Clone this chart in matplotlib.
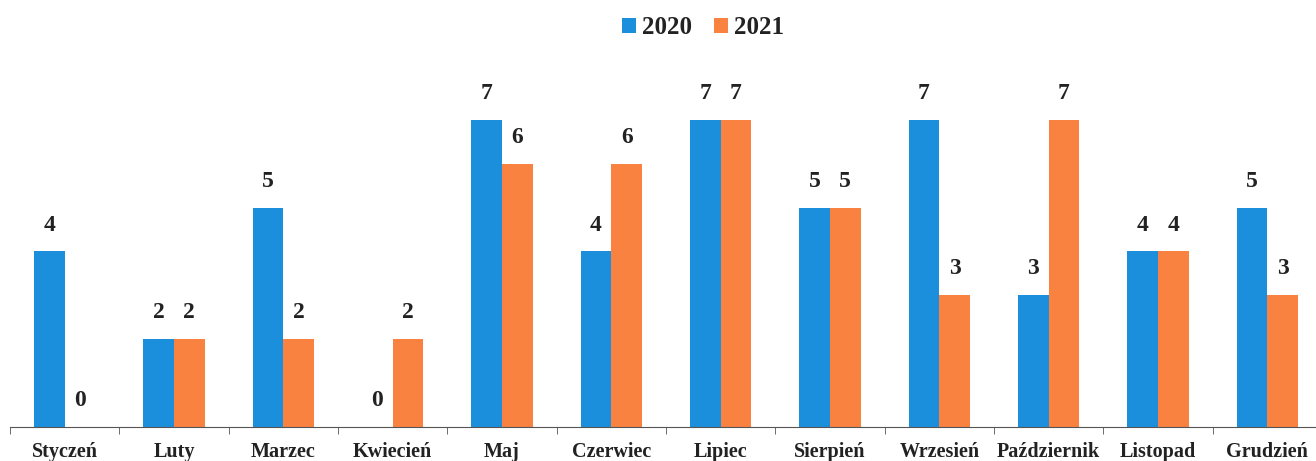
import numpy as np
import matplotlib.pyplot as plt

months = ["Styczeń", "Luty", "Marzec", "Kwiecień", "Maj", "Czerwiec", "Lipiec",
          "Sierpień", "Wrzesień", "Październik", "Listopad", "Grudzień"]
vals_2020 = [4, 2, 5, 0, 7, 4, 7, 5, 7, 3, 4, 5]
vals_2021 = [0, 2, 2, 2, 6, 6, 7, 5, 3, 7, 4, 3]

blue = "#1b8fdb"
orange = "#f98240"

plt.rcParams["font.family"] = ["Liberation Serif", "DejaVu Serif"]
plt.rcParams["font.weight"] = "bold"

fig = plt.figure(figsize=(13.16, 4.61), dpi=100)
# the plot area runs slightly off the right edge, as in the source
ax = fig.add_axes([10 / 1316, 34 / 461, 1312 / 1316, 351 / 461])

x = np.arange(len(months))
w = 0.28
b1 = ax.bar(x - w / 2, vals_2020, w, color=blue, label="2020")
b2 = ax.bar(x + w / 2, vals_2021, w, color=orange, label="2021")

for bars, vals in ((b1, vals_2020), (b2, vals_2021)):
    for rect, v in zip(bars, vals):
        ax.annotate(str(v), (rect.get_x() + rect.get_width() / 2, v),
                    xytext=(0, 19), textcoords="offset points",
                    ha="center", va="center", fontsize=17, fontweight="bold",
                    color="#222222")

ax.set_xlim(-0.5, len(months) - 0.5)
ax.set_ylim(0, 8)
ax.set_yticks([])
for s in ("top", "right", "left"):
    ax.spines[s].set_visible(False)
ax.spines["bottom"].set_color("#555555")

ax.set_xticks(x)
ax.set_xticklabels(months, fontsize=14.5, fontweight="bold", color="#222222")
ax.tick_params(axis="x", which="major", length=0, pad=11)
ax.set_xticks(np.arange(len(months) + 1) - 0.5, minor=True)
ax.tick_params(axis="x", which="minor", length=5, color="#555555")

leg = fig.legend(handles=[b1, b2], loc="center", bbox_to_anchor=(703 / 1316, 1 - 28 / 461),
                 ncol=2, frameon=False, fontsize=18, handlelength=0.55, handleheight=0.55,
                 handletextpad=0.25, columnspacing=0.9)
for t in leg.get_texts():
    t.set_fontweight("bold")
    t.set_color("#222222")

fig.savefig("out.png", dpi=100)
